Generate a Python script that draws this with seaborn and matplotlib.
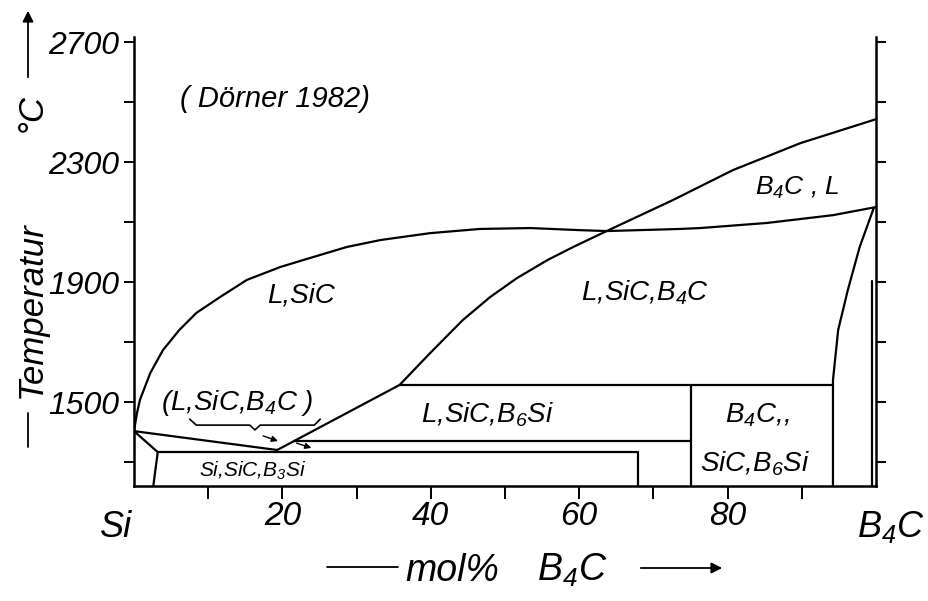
import matplotlib
matplotlib.use("Agg")
import matplotlib.pyplot as plt
import pandas as pd
import seaborn as sns

# ---- phase boundaries: composition in mol% B4C, temperature in degC ----
liq_sic_x = [0.0, 0.4, 0.8, 2.2, 3.9, 6.1, 8.4, 11.6, 15.2, 19.7, 24.1, 28.7,
             33.2, 39.9, 46.6, 53.4, 60.1, 63.7, 73.6, 76.3, 85.3, 94.2, 100.0]
liq_sic_t = [1403, 1463, 1507, 1597, 1673, 1740, 1797, 1850, 1907, 1950, 1983, 2017,
             2040, 2063, 2077, 2080, 2073, 2070, 2077, 2080, 2097, 2123, 2150]

liq_b4c_x = [19.3, 35.8, 39.9, 44.3, 48.0, 51.6, 55.7, 59.2, 63.7, 72.6, 80.7, 89.8, 100.0]
liq_b4c_t = [1340, 1557, 1663, 1773, 1850, 1913, 1973, 2017, 2070, 2173, 2273, 2363, 2443]

si_eut_x = [0.0, 19.3]
si_eut_t = [1403, 1340]

si_sol_x = [0.0, 3.2, 2.6]
si_sol_t = [1403, 1333, 1220]

b3si_x = [3.2, 67.9, 67.9]
b3si_t = [1333, 1333, 1220]

mid_x = [21.6, 75.1]
mid_t = [1370, 1370]

b6si_x = [35.8, 94.2]
b6si_t = [1557, 1557]

v75_x = [75.1, 75.1]
v75_t = [1557, 1220]

b4c_sol_x = [99.7, 97.8, 96.2, 94.9, 94.2, 94.2]
b4c_sol_t = [2147, 2017, 1873, 1740, 1573, 1220]

b4c_ss_x = [99.5, 99.5]
b4c_ss_t = [1220, 1905]

brace_x = [7.5, 8.4, 15.6, 16.3, 17.0, 24.3, 25.1]
brace_t = [1443, 1423, 1423, 1407, 1423, 1423, 1443]

arrow_tail_x = [17.4, 21.9]
arrow_tail_t = [1387, 1363]
arrow_head_x = [19.4, 23.9]
arrow_head_t = [1370, 1347]

# ---- axis ticks and labels ----
x_ticks = [10, 20, 30, 40, 50, 60, 70, 80, 90]
x_tick_labels = ["", "20", "", "40", "", "60", "", "80", ""]
y_ticks = [1300, 1500, 1700, 1900, 2100, 2300, 2500, 2700]
y_tick_labels = ["", "1500", "", "1900", "", "2300", "", "2700"]

# ---- region labels: (text, x, baseline T, size) ----
region_labels = [
    ("L,SiC", 22.5, 1833, 20),
    ("(L,SiC,B$_4$C )", 13.9, 1473, 20),
    ("Si,SiC,B$_3$Si", 16.0, 1250, 15),
    ("L,SiC,B$_6$Si", 47.6, 1433, 20),
    ("B$_4$C,,", 84.0, 1433, 20),
    ("SiC,B$_6$Si", 83.7, 1267, 20),
    ("L,SiC,B$_4$C", 68.9, 1837, 20),
    ("B$_4$C , L", 89.4, 2190, 19),
    ("( Dörner 1982)", 19.0, 2483, 21),
]

boundaries = [
    ("liq_sic", liq_sic_x, liq_sic_t),
    ("liq_b4c", liq_b4c_x, liq_b4c_t),
    ("si_eut", si_eut_x, si_eut_t),
    ("si_sol", si_sol_x, si_sol_t),
    ("b3si", b3si_x, b3si_t),
    ("mid", mid_x, mid_t),
    ("b6si", b6si_x, b6si_t),
    ("v75", v75_x, v75_t),
    ("b4c_sol", b4c_sol_x, b4c_sol_t),
    ("b4c_ss", b4c_ss_x, b4c_ss_t),
]

rows = []
for name, xs, ts in boundaries:
    for i, (x, t) in enumerate(zip(xs, ts)):
        rows.append({"boundary": name, "order": i, "mol": x, "T": t})
df = pd.DataFrame(rows)

sns.set_theme(style="ticks")
FONT = ["Liberation Sans", "DejaVu Sans"]
plt.rcParams["font.family"] = FONT
plt.rcParams["font.style"] = "italic"
plt.rcParams["text.color"] = "black"
plt.rcParams["axes.labelcolor"] = "black"
plt.rcParams["xtick.color"] = "black"
plt.rcParams["ytick.color"] = "black"
plt.rcParams["mathtext.fontset"] = "custom"
plt.rcParams["mathtext.rm"] = "Liberation Sans:italic"
plt.rcParams["mathtext.it"] = "Liberation Sans:italic"
plt.rcParams["mathtext.default"] = "it"

fig = plt.figure(figsize=(9.29, 6.01), dpi=100)
ax = fig.add_axes([134 / 929, 1 - 486 / 601, (876 - 134) / 929, (486 - 37) / 601])

sns.lineplot(data=df, x="mol", y="T", units="boundary", estimator=None, sort=False,
             color="black", linewidth=1.6, ax=ax, legend=False)

ax.plot(brace_x, brace_t, color="black", linewidth=1.2, solid_joinstyle="round")
for xt, tt, xh, th in zip(arrow_tail_x, arrow_tail_t, arrow_head_x, arrow_head_t):
    ax.annotate("", xy=(xh, th), xytext=(xt, tt),
                arrowprops=dict(arrowstyle="-|>", color="black", lw=1.0,
                                mutation_scale=9, shrinkA=0, shrinkB=0))

for text, x, t, size in region_labels:
    ax.text(x, t, text, ha="center", va="baseline", fontsize=size,
            fontstyle="italic", family=FONT, color="black")

ax.set_xlim(0, 100)
ax.set_ylim(1220, 2717)
ax.set_xticks(x_ticks, x_tick_labels, fontsize=24, fontstyle="italic", family=FONT)
ax.set_yticks(y_ticks, y_tick_labels, fontsize=23, fontstyle="italic", family=FONT)
ax.tick_params(axis="x", direction="out", length=9, width=1.4, pad=2,
               colors="black", labelcolor="black")
ax.tick_params(axis="y", direction="out", length=7, width=1.4, pad=4,
               colors="black", labelcolor="black", left=True, right=True)
ax.set_xlabel("")
ax.set_ylabel("")

for side in ("left", "bottom", "right"):
    ax.spines[side].set_visible(True)
    ax.spines[side].set_linewidth(1.8)
    ax.spines[side].set_color("black")
ax.spines["top"].set_visible(False)
ax.grid(False)

# end-member labels under the composition axis
xt = ax.get_xaxis_transform()
ax.text(-2.4, -0.113, "Si", transform=xt, ha="center", va="baseline",
        fontsize=26, fontstyle="italic", family=FONT, clip_on=False, color="black")
ax.text(102.0, -0.113, "B$_4$C", transform=xt, ha="center", va="baseline",
        fontsize=26, fontstyle="italic", family=FONT, clip_on=False, color="black")

# composition axis title with lead-in dash and arrow
fig.add_artist(plt.Line2D([327 / 929, 398 / 929], [1 - 567 / 601] * 2,
                          color="black", lw=1.3, transform=fig.transFigure))
fig.text(452 / 929, 1 - 581 / 601, "mol%", ha="center", va="baseline",
         fontsize=27, fontstyle="italic", family=FONT, color="black")
fig.text(537 / 929, 1 - 581 / 601, "B$_4$C", ha="left", va="baseline",
         fontsize=27, fontstyle="italic", family=FONT, color="black")
fig.add_artist(plt.matplotlib.patches.FancyArrowPatch(
    (638 / 929, 1 - 568 / 601), (725 / 929, 1 - 568 / 601),
    transform=fig.transFigure, arrowstyle="-|>", mutation_scale=16,
    color="black", lw=1.3))

# temperature axis title with lead-in dash, unit and arrow
fig.add_artist(plt.Line2D([28 / 929] * 2, [1 - 447 / 601, 1 - 413 / 601],
                          color="black", lw=1.3, transform=fig.transFigure))
fig.text(31 / 929, 1 - 310 / 601, "Temperatur", rotation=90, ha="center",
         va="center", fontsize=25, fontstyle="italic", family=FONT, color="black")
fig.text(31 / 929, 1 - 112 / 601, "°C", rotation=90, ha="center",
         va="center", fontsize=25, fontstyle="italic", family=FONT, color="black")
fig.add_artist(plt.matplotlib.patches.FancyArrowPatch(
    (28 / 929, 1 - 80 / 601), (28 / 929, 1 - 8 / 601),
    transform=fig.transFigure, arrowstyle="-|>", mutation_scale=16,
    color="black", lw=1.3))

fig.savefig("out.png", dpi=100, facecolor="white")
